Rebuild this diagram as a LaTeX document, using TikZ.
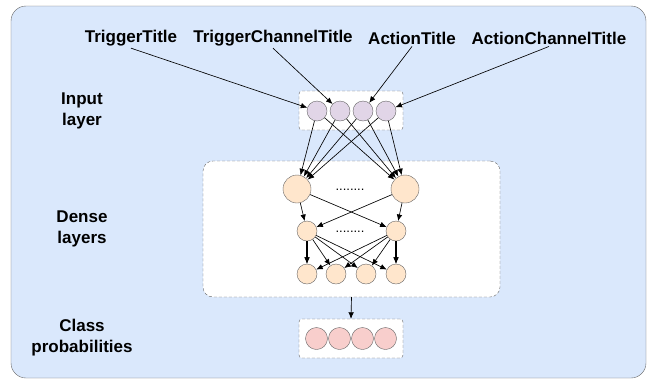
\documentclass[tikz,border=0pt]{standalone}
\usepackage{fontspec}
\setmainfont{Liberation Sans}
\usetikzlibrary{arrows.meta,positioning,calc}

\definecolor{bgblue}{HTML}{DAE8FC}
\definecolor{inpurple}{HTML}{E1D5E7}
\definecolor{denseorange}{HTML}{FFE6CC}
\definecolor{outpink}{HTML}{F8CECC}
\definecolor{linegray}{HTML}{666666}

\begin{document}
\begin{tikzpicture}[x=1pt,y=-1pt,
  lbl/.style={font=\fontsize{17}{21}\selectfont\bfseries, align=center, inner sep=2pt},
  neuron/.style={circle, draw=linegray, inner sep=0pt, minimum size=#1},
  layerbox/.style={draw=linegray, densely dashed, fill=white, inner sep=0pt},
  conn/.style={-{Latex[length=6.5pt,width=5.5pt]}, line width=0.65pt},
  dots/.style={font=\fontsize{13}{14}\selectfont, anchor=base, inner sep=0pt}]
\useasboundingbox (0,0) rectangle (648,381);
% background panel
\node[draw=linegray, fill=bgblue, rounded corners=15pt, minimum width=635pt, minimum height=372pt] (panel) at (328.5,192) {};

% boxes round the layers
\node[layerbox, rounded corners=3pt, minimum width=104pt, minimum height=39pt] (inbox) at (351,110.5) {};
\node[layerbox, rounded corners=10pt, minimum width=297pt, minimum height=136pt] (densebox) at (351.5,229) {};
\node[layerbox, rounded corners=3pt, minimum width=104pt, minimum height=39pt] (clsbox) at (351,338.5) {};

% layer names
\node[lbl] (inname) at (82,111) {Input\\layer};
\node[lbl] (densename) at (82,229) {Dense\\layers};
\node[lbl] (clsname) at (82,338) {Class\\probabilities};

% input titles
\node[lbl] (trig) at (131,38) {TriggerTitle};
\node[lbl] (trigch) at (273,38) {TriggerChannelTitle};
\node[lbl] (act) at (412,38) {ActionTitle};
\node[lbl] (actch) at (549,38) {ActionChannelTitle};

% neurons
\foreach \x [count=\i] in {317,340,363,386}
  \node[neuron=20pt, fill=inpurple] (in\i) at (\x,111) {};
\node[neuron=28pt, fill=denseorange] (big1) at (297,189) {};
\node[neuron=28pt, fill=denseorange] (big2) at (405,189) {};
\node[neuron=20pt, fill=denseorange] (mid1) at (307,231) {};
\node[neuron=20pt, fill=denseorange] (mid2) at (396,231) {};
\foreach \x [count=\i] in {307,336,366,396}
  \node[neuron=20pt, fill=denseorange] (low\i) at (\x,274) {};
\foreach \x [count=\i] in {316.5,339.5,362.5,385.5}
  \node[neuron=22pt, fill=outpink] (cls\i) at (\x,338.5) {};

\node[dots] (dotsbig) at (350,190) {........};
\node[dots] (dotsmid) at (350,232) {........};

% connections
\draw[conn] (trig.south) -- (in1);
\draw[conn] (trigch.south) -- (in2);
\draw[conn] (act.south) -- (in3);
\draw[conn] (actch.south) -- (in4);
\foreach \i in {1,...,4}
  \foreach \j in {1,2}
    \draw[conn] (in\i) -- (big\j);
\foreach \i in {1,2}
  \foreach \j in {1,2}
    \draw[conn] (big\i) -- (mid\j);
\foreach \i in {1,2}
  \foreach \j in {1,...,4}
    \draw[conn] (mid\i) -- (low\j);
\draw[conn, line width=1.4pt] (mid1) -- (low1);
\draw[conn, line width=1.4pt] (mid2) -- (low4);
\draw[conn] (densebox.south) -- (clsbox.north);
\end{tikzpicture}
\end{document}
